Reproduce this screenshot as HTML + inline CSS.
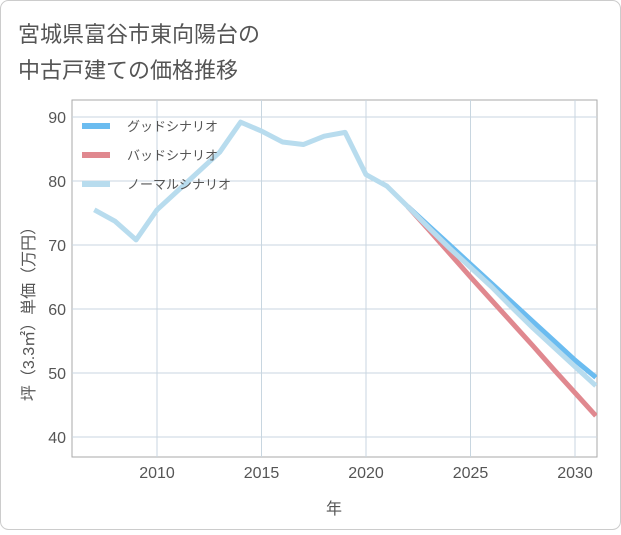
<!DOCTYPE html>
<html><head><meta charset="utf-8"><style>
body{margin:0;background:#fff}
svg text{font-family:"Liberation Sans","Noto Sans CJK JP",sans-serif}
</style></head><body>
<svg width="621" height="530" viewBox="0 0 621 530" xmlns="http://www.w3.org/2000/svg">
<rect x="0.5" y="0.5" width="620" height="529" rx="8" fill="#fff" stroke="#ccc"/>
<text x="18" y="42" font-size="22" fill="#555">宮城県富谷市東向陽台の</text>
<text x="18" y="78" font-size="22" fill="#555">中古戸建ての価格推移</text>
<g id="grid"></g>
<g id="series"></g>
<g id="legend"></g>
<text x="334" y="514" font-size="16" fill="#555" text-anchor="middle">年</text>
<text transform="translate(34,310) rotate(-90)" font-size="16" fill="#555" text-anchor="middle">坪（3.3㎡）単価（万円）</text>
</svg>
<script>
const years=[2007,2008,2009,2010,2011,2012,2013,2014,2015,2016,2017,2018,2019,2020,2021,2022];
const hist=[75.5,73.7,70.8,75.5,78.5,81.5,84.5,89.2,87.8,86.1,85.7,87,87.6,81,79.2,76];
const futYears=[2022,2023,2024,2025,2026,2027,2028,2029,2030,2031];
const good=[76,73,70,67,64,61,58,55,52,49.3];
const bad=[76,72.4,68.7,65,61.4,57.8,54.2,50.5,46.9,43.3];
const normal=[76,72.7,69.5,66.5,63.5,60.2,57,54,51,48];
const xTicks=[2010,2015,2020,2025,2030];
const yTicks=[40,50,60,70,80,90];
const NS="http://www.w3.org/2000/svg";
const X=v=>157+(v-2010)*20.9, Y=v=>437-(v-40)*6.4;
function mk(t,a,p){const e=document.createElementNS(NS,t);for(const k in a)e.setAttribute(k,a[k]);p.appendChild(e);return e;}
const g=document.getElementById('grid');
const frame=mk('rect',{x:72,y:100,width:525,height:357,fill:'none',stroke:'#aaa'},g);


xTicks.forEach(t=>{const l=mk('line',{x1:X(t),x2:X(t),y1:100,y2:457,stroke:'#c8d6e0'},g);


const s=mk('text',{x:X(t),y:478,'font-size':16,fill:'#555','text-anchor':'middle'},g);s.textContent=t;

});
yTicks.forEach(t=>{const l=mk('line',{x1:72,x2:597,y1:Y(t),y2:Y(t),stroke:'#c8d6e0'},g);


const s=mk('text',{x:66,y:Y(t)+6,'font-size':16,fill:'#555','text-anchor':'end'},g);s.textContent=t;

});
const sg=document.getElementById('series');
const clip=mk('clipPath',{id:'c'},sg);mk('rect',{x:72,y:100,width:525,height:357},clip);
function line(xs,ys,c,name){const p=mk('polyline',{points:xs.map((x,i)=>X(x)+','+Y(ys[i])).join(' '),fill:'none',stroke:c,'stroke-width':5,'stroke-linejoin':'round','clip-path':'url(#c)'},sg);

}
line(futYears,good,'#6bbcf0','good-scenario-line');
line(futYears,bad,'#e0888f','bad-scenario-line');
line(years.concat(futYears.slice(1)),hist.concat(normal.slice(1)),'#b8dcee','normal-scenario-line');
const lg=document.getElementById('legend');
[['グッドシナリオ','#6bbcf0'],['バッドシナリオ','#e0888f'],['ノーマルシナリオ','#b8dcee']].forEach((d,i)=>{
const y=126+i*29;
const r=mk('rect',{x:82,y:y-3,width:28,height:6,fill:d[1]},lg);


const t=mk('text',{x:127,y:y+5,'font-size':13,fill:'#555'},lg);t.textContent=d[0];

});
</script>
</body></html>
